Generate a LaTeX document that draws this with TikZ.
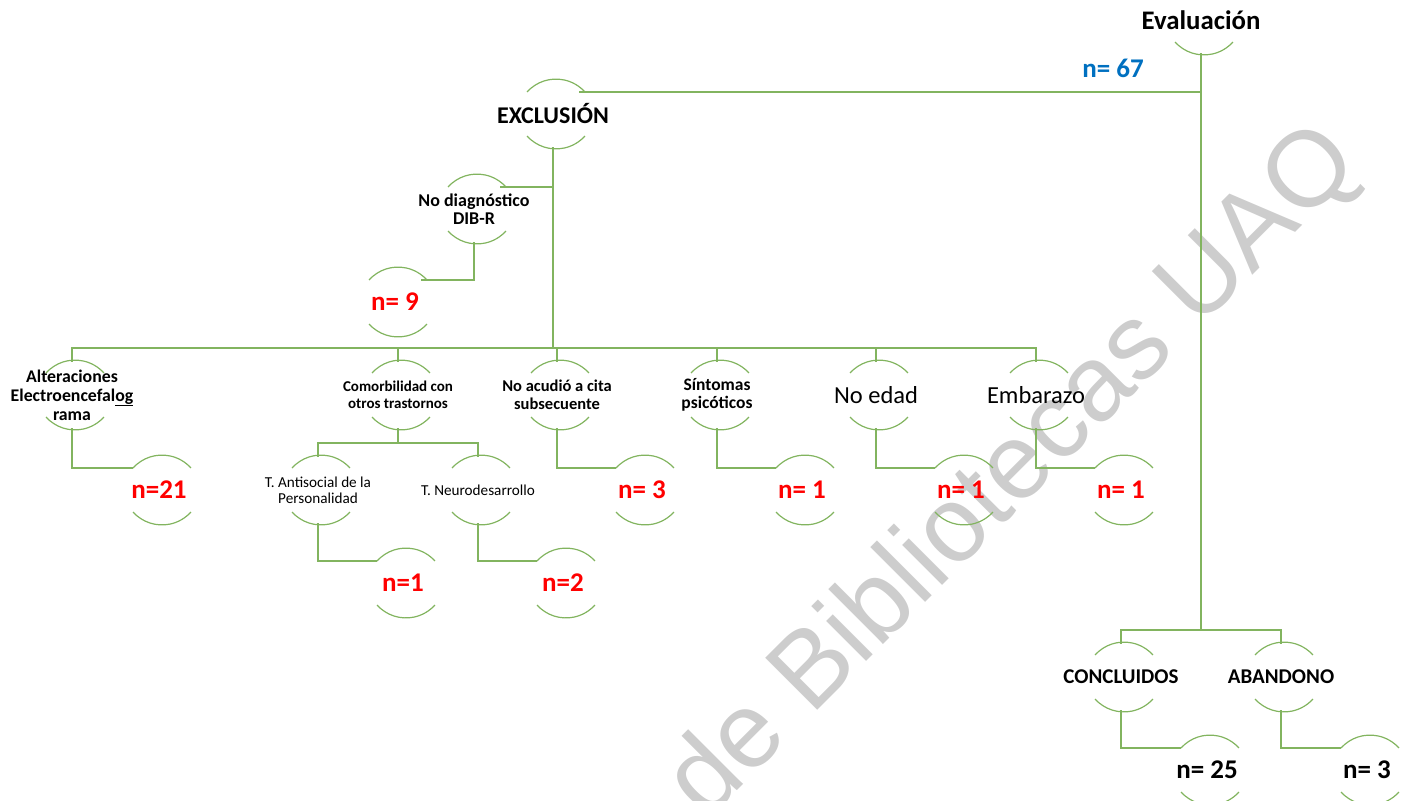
\documentclass[tikz,border=0pt]{standalone}
\usepackage{fontspec}
\setmainfont{Carlito}
\newfontfamily\marcafont{Liberation Sans}
\usetikzlibrary{positioning}
\definecolor{verde}{RGB}{130,180,95}
\definecolor{azul}{RGB}{0,112,192}
\definecolor{gris}{RGB}{205,205,205}

\begin{document}
\begin{tikzpicture}[x=1pt,y=1pt,
  arco/.style={minimum width=52pt,minimum height=66pt,inner sep=0pt,align=center},
  grande/.style={arco,font=\bfseries\fontsize{24}{27}\selectfont},
  medio/.style={arco,font=\fontsize{24.5}{27}\selectfont},
  chico/.style={arco,font=\bfseries\fontsize{17.5}{18}\selectfont},
  fino/.style={arco,font=\fontsize{15.2}{16}\selectfont},
  num/.style={arco,text=red,font=\bfseries\fontsize{27}{30}\selectfont},
  linea/.style={draw=verde,line width=1.2pt},
  tronco/.style={draw=verde,line width=2pt}]
 \useasboundingbox (0,0) rectangle (1402,-800);
 \clip (0,0) rectangle (1402,-800);
 % marca de agua
 \node[anchor=base west,rotate=45,text=gris,font=\marcafont\fontsize{107}{107}\selectfont,inner sep=0pt]
   (marca) at (706,-822) {de Bibliotecas UAQ};

 \node[grande,font=\bfseries\fontsize{26.8}{29}\selectfont] (eval) at (1201,-20) {Evaluación};
 \node[text=azul,font=\bfseries\fontsize{27}{30}\selectfont] (n67) at (1113,-68) {n= 67};
 \node[grande] (excl) at (553,-114) {EXCLUSIÓN};
 \node[chico,font=\bfseries\fontsize{18}{18}\selectfont] (diag) at (474,-209) {No diagnóstico\\DIB-R};
 \node[num] (n9) at (395,-302) {n= 9};

 % primer nivel
 \node[chico,font=\bfseries\fontsize{17.8}{19}\selectfont] (alt) at (72,-395) {Alteraciones\\Electroencefal\underline{og}\\rama};
 \node[chico,font=\bfseries\fontsize{15}{17}\selectfont] (comor) at (398,-395) {Comorbilidad con\\otros trastornos};
 \node[chico,font=\bfseries\fontsize{16.5}{17.5}\selectfont] (acud) at (557,-395) {No acudió a cita\\subsecuente};
 \node[chico] (sint) at (717,-395) {Síntomas\\psicóticos};
 \node[medio] (edad) at (876,-395) {No edad};
 \node[medio] (emb) at (1036,-395) {Embarazo};

 \node[num] (n21) at (159,-490) {n=21};
 \node[num] (n3) at (642,-490) {n= 3};
 \node[num] (n1a) at (802,-490) {n= 1};
 \node[num] (n1b) at (961,-490) {n= 1};
 \node[num] (n1c) at (1121,-490) {n= 1};

 \node[fino] (anti) at (318,-490) {T. Antisocial de la\\Personalidad};
 \node[fino] (neuro) at (478,-490) {T. Neurodesarrollo};
 \node[num] (n1d) at (403,-583) {n=1};
 \node[num] (n2) at (563,-583) {n=2};

 \node[grande,font=\bfseries\fontsize{21}{24}\selectfont] (concl) at (1121,-677) {CONCLUIDOS};
 \node[grande,font=\bfseries\fontsize{21}{24}\selectfont] (aband) at (1281,-677) {ABANDONO};
 \node[num,text=black] (n25) at (1207,-770) {n= 25};
 \node[num,text=black] (n3b) at (1367,-770) {n= 3};

 % arcos de cada nodo
 \foreach \n in {eval,excl,diag,n9,alt,comor,acud,sint,edad,emb,n21,n3,n1a,n1b,n1c,anti,neuro,n1d,n2,concl,aband,n25,n3b}{
   \draw[linea] ([shift={(-26pt,22pt)}]\n.center) arc[start angle=138,end angle=42,radius=39pt];
   \draw[linea] ([shift={(-26pt,-22pt)}]\n.center) arc[start angle=222,end angle=318,radius=39pt];
   \coordinate (\n-i) at ([shift={(-26pt,22pt)}]\n.center);
   \coordinate (\n-d) at ([shift={(26pt,22pt)}]\n.center);
 }

 \coordinate (bus1) at (553,-348);
 \coordinate (bus2) at (1201,-630);
 \coordinate (bus3) at (398,-443);

 % conectores
 \draw[tronco] (eval.south) |- (excl-d);
 \draw[tronco] (eval.south) -- (bus2);
 \draw[tronco] (concl.north) |- (bus2) -| (aband.north);
 \draw[tronco] (excl.south) -- (bus1);
 \draw[tronco] (alt.north) |- (bus1) -| (emb.north);
 \foreach \n in {comor,acud,sint,edad}
   \draw[linea] (\n.north) -- (\n.north |- bus1);
 \draw[linea] (diag-d) -- (diag-d -| excl.south);
 \draw[linea] (diag.south) |- (n9-d);
 \draw[linea] (comor.south) -- (bus3);
 \draw[linea] (anti.north) |- (bus3) -| (neuro.north);
 \draw[linea] (alt.south) |- (n21-i);
 \draw[linea] (acud.south) |- (n3-i);
 \draw[linea] (sint.south) |- (n1a-i);
 \draw[linea] (edad.south) |- (n1b-i);
 \draw[linea] (emb.south) |- (n1c-i);
 \draw[linea] (anti.south) |- (n1d-i);
 \draw[linea] (neuro.south) |- (n2-i);
 \draw[linea] (concl.south) |- (n25-i);
 \draw[linea] (aband.south) |- (n3b-i);

\end{tikzpicture}
\end{document}
